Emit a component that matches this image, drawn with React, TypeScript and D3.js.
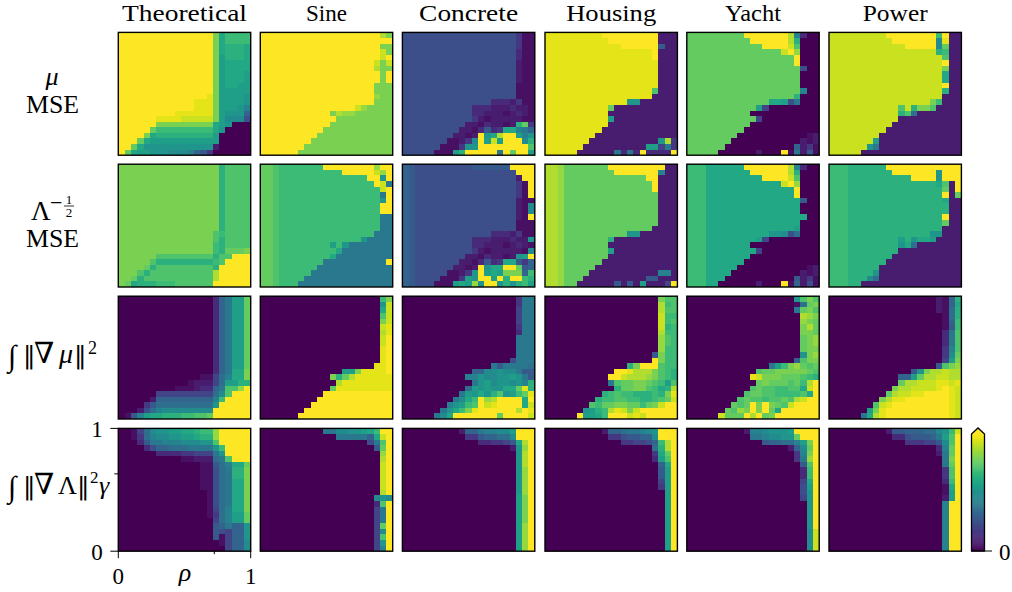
import React from "react";
import * as d3 from "d3";

const columnTitles = ["Theoretical", "Sine", "Concrete", "Housing", "Yacht", "Power"];
const titleWidths = [125, 41, 99, 90, 56, 65];
const yTickLabels = ["1", "0"];
const xTickLabels = ["0", "1"];

// Each row is a run-length list: letter = colour level (a=0 ... z=1), number = reading cells; "*n" repeats the row.
const muTheoretical = ["z16u1p1r5*2","z16u1p1q4p1*2","z16u1o1q4p1","z16u1o1p5*2","z16u1o1p4o1","z16u1o1p3o2","z16u1o6","z15y1u1o5n1","z13y3u1o5n1","z12y4u1o4n1l1","z9y7u1o1n4i1","z6y4x6u1o1m4g1","z6u10p1o1n2a3","z5t1r10p1n2a4","z4u1p1q10o1a6","z3t1p1o12a6","z2t1p1n12c1a6","z1t1p1o2n3m3l2i1h1e1a7"];
const muSine = ["z21w1u1","z23","z21u2","z21x1u1","z21x1z1","z20x1u1x1","z20w1u2","z21u1z1","z20u3*2","z20v1u2","z20u3","z16x1v1u5","z11u1x1w1v2u7","z12w1u10","z11u12","z10u13","z9u14","z8u15","z7u16","z6u17"];
const muConcrete = ["g20e1b2*3","g20d1b2*2","g20c1b2*3","g20b3*3","g15d3c2e1b2","g11d4c4d1c2b1","g11d1b1d1c3b1c2d1c1b1","g11e2c1b1c3d1c2b2","g10c2b2d1c2b1d1c1q1t1e1","g9c2b2d1h1d1e1p1d1p1l1k1i1","g8c2b1c1j1z1n1p1w1z3o1l1n1","g7b2c1e1m1q1z1o1x1o1z4m1q1","g6b3e1n1n1w1z5w1z3s1","g5b3o1q1z2w1z3k1z1q1t1z2o1"];
const muHousing = ["y9z11c3","y10z10c3","y13z7h1c2","y18z2c3","y19z1c3","y20c3*4","y19s1c3","y18p1c4","y14n2c7","y10t1c12","y10c13","y10o1c12","y10c13","y9c14","y8c15","y7c13n1w1e1","y6c11o3f1k1e1","y5c6k2d1k1d1z1d5z1"];
const muYacht = ["t9z8w2l1d1a2","t10z7w2q1a3","t12z5x2s1a3","t16x1z2v1a3","t19z1a3*2","t20g1a2","t20a3*2","t20l1a2","t19q1a3","t14p2o1g2k1a3","t11o1f2a9","t10a13","t11f1a11","t10a13","t9a14","t8a13b1c1","t7a13c1b1c1","t6a13i1c1e1b1","t5a6c2a3z1b2k1c1h1b1"];
const muPower = ["x9z10r1z1c2","x10z9m1y1c2","x13z6m1t1c2","x19q1r1c2","x20s1c2","x20z1c2","x20u1c2","x20p1c2","x20z1c2","x20q1c2","x20c3","x17u1r2c3","x11s2x1q1u2s1m1c4","x11q2s1j1c8","x11c12","x10c13","x9c14","x8c15","x7o1c15","x6n1k1c15","x5c18"];

const lamTheoretical = ["u17q1s5*11","u16s1r1s5","u16s1q1s5","u16r1q1s5","u16r1q1t4u1","u6s10q1s3z3","u5s1q10r1s2z4","u4t1q1s10q1z6","u3s1q1s11w1z6","u2t1q1s12w1z6","u1t1p1q3r3s7z7"];
const lamSine = ["t2s1r7z10v1z2","t2s1r11z6x1v1z1","t2s1r16z2n1z1","t2s1r17z1x1k1","t2s1r18x1z2","t2s1r18k1z1","t2s1r18n1z1","t2s1r18z2","t2s1r18k2*3","t2s1r17k3","t2s1r14n1k5","t2s1r8o1p1r1n1k8","t2s1r9q1p1k9","t2s1r8p1k11","t2s1r7k12z1","t2s1r6k14","t2s1r5k15","t2s1r4k16","t2s1r3k17"];
const lamConcrete = ["i1h1g9h8z4","i1h1g18z3","i1h1g18c1z2","i1h1g18e1b1z1*3","i1h1g18c1b2","i1h1g18c1b1m1","i1h1g18c1b1z1","i1h1g18b3*2","i1h1g13d3c2e1b2","i1h1g9d4c4d1c2n1","i1h1g9d1b1d1c3b1c2d1c1b1","i1h1g9e2c1b1c3d1c2b1m1","i1h1g8c2b2d1c2b1d1c1n1o1z1","i1h1g7c2b2d1h1d1e1p1d1p1h1e1i1","i1h1g6c2b1c1j1z1n1p1p1z3t1h1i1","i1h1g5b2c1e1n1q1z1o1p1o1u3u1i1r1","i1h1g4b3e1o1n1v1z2o1z1q1z3r1q1","i1h1g3b3o1p1o1v1z1n1z2n1q1n2q1r1o1"];
const lamHousing = ["w2v1t7z11c2","w2v1t8z9l1c2","w2v1t14z3c3","w2v1t16z1c3*2","w2v1t17c3*5","w2v1t15q1c4","w2v1t11n2c7","w2v1t7q1c12","w2v1t7c13","w2v1t7o1c12","w2v1t7c13","w2v1t6c14","w2v1t5c15","w2v1t4c13l2c1","w2v1t3c11h3c3","w2v1t2c6h2c1h1c1o1c4f1z1"];
const lamYacht = ["r3p6z8w2l1d1a2","r3p7z7w2q1a3","r3p9z5x2s1a3","r3p13x1z2v1a3","r3p16z1a3*2","r3p17h1a2","r3p17a3","r3p18a2","r3p17a3","r3p16o1a3","r3p11n2m1g2j1a3","r3p8o1f2a9","r3p7a13","r3p8f1a11","r3p7a13","r3p6a14","r3p5a13b1c1","r3p4a13c1b1c1","r3p3a13h1c1e1b1","r3p2a6c2a3z1b2i1c1g1b1"];
const lamPower = ["r3q6z14","r3q7z9n1z3","r3q11z5n1z3","r3q16p1s1c1z1","r3q17t1c1z1","r3q17z1c1t1","r3q17p1c2","r3q17q1c2","r3q17z1c2","r3q17t1c2","r3q17c3","r3q14n1o1n1c3","r3q8o2q1n1p2o1l1c4","r3q8n2p1j1c8","r3q8c12","r3q7c13","r3q6c14","r3q5c15","r3q4n1c15","r3q3m1j1c15","r3q2c18"];

const gradMuTheoretical = ["a16d1i1k2o2t1*12","a16d1i1k2p2u1","a14b2f1j1l2p2u1","a11b2c3f1j1l1o2q2s1","a9b3c2d2i1k1n1s2v1z1","a6f10j1m1s2z3","a5c1i10l1r1z5","a4e1h1j10n1z6","a3c1g1j1l1m9z7","a1b1h1l1o1p2q3r3s2t1z7"];
const gradMuSine = ["a21r1u1","a21n1x1","a21p1x1","a21s1x1","a21u1x1","a21x1y1","a21w1y1","a21x1z1","a21y1z1*3","a20y2z1","a14o2u1y5z1","a11u2q1t1w1y7","a12w2y9","a11t2y10","a10z13","a9z14","a8z15","a7z16","a6z17"];
const gradMuConcrete = ["a20e1k2*2","a20f1k2*3","a20e1k2","a20d1k2","a20k3*3","a19g1k3","a15k1h1k5j1","a11i3m2n1m1n1m1k1h2","a10l2n2m2n2o2n1k1h1","a11k1n2o1m1n2m2n1l1q1","a10j1o2n1o1n2p1o1p1t1y1q1","a9k1o1n1p2n1q1s1n1q1o1r1t1y1q1","a8k1m1p1r1v1z1v1w1z5p1z1","a7l1n1o1r1s1w1z1x1y1z5p1x1","a6k1n1p1r1u1y1z8w1z1y1","a5k1m1p1z8t1z1t1z3x1"];
const gradMuHousing = ["a20u1s2","a20w1r1s1","a20w1s2","a20x1r2","a20x1r1s1","a20x1q1r1","a20w1r2","a20v1s1r1","a20v1r2","a19h1u1r2","a18o1z1u1r2","a14q1u1z4s1r2","a11z3y1w3u2s1r1q1","a10z2x2w3v2u1s1r1q1p1","a10k1s1u1t2u2t2s1r1o1s1","a11q1s1t2u2s2r1p1q1w1","a9q1r1s2r2q3r2q1u1y1","a8q1r2s3r2q3r1s1t1x1z1","a7s1r1t2u3t2r1t1s1u1x1z3","a6n1o1q1r1w1y1w1x1u1x1z7","a5z1o2p1r1z4x1y1x1z6"];
const gradMuYacht = ["a19n1s1u1s1","a18b2j1t1u1s1","a19k1t1u1s1","a20w1v1u1","a20v1u1t1","a20u1w1t1","a20u2t1","a20t1u1v1","a20t1u2","a20n1u1v1","a19i1s1u2","a14k1o1r1u2v1t1s1t1","a11s1t3u3v1u2t1s1","a10y1x1v1u3t2u1t1s1r1q1","a11t1u2t3s2t1r1w1z1","a10s1t2s2r2s1r1s1p1x1z1","a9s1t2s3r3s1r1s1p1z1","a8s1t1s2r2s2t1s1o1w1x1z2","a7t1s1t1z1u1v1z1u1t1s1x1z5","a6t1s1v1u1z1u1x1z1t1p1z7","a5x1t3z1w1z1y1t1u1z8"];
const gradMuPower = ["a19c1b1i1q1","a19c1b1i1p1","a19c1b1j1q1","a20b1j1q1","a20b1i1r1","a20b1h1r1","a20d1k1s1*2","a20e1l1s1","a20e1m1t1","a20f1o1u1","a18d1h1s1u1v1","a14h1n1u1w3x1w2","a11i3o1t1w2x3w2","a11t2w2x3y3x1y1","a10u1w3x4y2z1y1x1","a9t1w1x3y2z5y1x1","a8u1w1y2z9y1x1","a7s1x1y1z11y1x1","a6o1u1y1z12y1x1","a5k1p1w1y1z12y1x1"];

const gradLamTheoretical = ["a2b1f1j1m1n2o2p2q2r2v1z6","a2b1e1j1l1m2n2o2p2q2v1z6","a3d1h1k2l3m4n2s1z6","a4d1g1i2j3k3k2n1r1z5","a6d4e3f3k1n1t1z4","a10b3c3j1k1n1s1z3","a14b2h1j1l2p2t1","a14b2g1j1k2q2u1","a14b2g1j1k2p2u1*2","a15b1g1j1k2p2u1*3","a15b1f1j1l2p2u1","a15b1e1j1l2o2t1","a16f1j1l2o2t1","a16h1i1k2i2n1","a16h1g1f2i2n1","a16h1b1f2i2n1","a17b1f2i2m1","a18f2i2m1"];
const gradLamSine = ["a10k3m2n2o2p1r1z2","a13k6i1p1x1z1","a19g1k1s1z1","a20h1t1z1","a21v1z1","a21w1z1","a21x1z1*4","a21w1z1","a20m1n1m1","a20d1s1z1","a20f1k1z1*3","a20f1t1z1","a20f1m1z1","a20f1s1z1","a20f1n1z1","a20f1l1z1"];
const gradLamConcrete = ["a9c1i2k2l2m2n1o1z3","a10e2h2i2j2k1m1z3","a13d2e2f2h1p1w1z1","a19c1n1v1z1","a20n1w1z1*3","a20n1v1z1*4","a20o1u1z1*5","a20o1v1z1*5"];
const gradLamHousing = ["a9c1i2j2k2l1m2n1z3","a10e2g2h2i2j1m1z3","a12c1e2f2g2i1r1w1z1","a18e1j1q1w1z1","a19e1p1t1z1","a19d1o1s1z1","a20i1p1z1","a20h1o1z1","a20f1o1z1","a20e1o1z1","a21o1z1*11"];
const gradLamYacht = ["a9c1l2m2n2n1o1z5","a10k2l2m2n2w1t1z3","a12h2i2j2k1l1o1u1z1","a17c1e1i1m1t1z1","a19e1l1u1z1","a19e1k1v1z1","a20h1s1z1","a20d1r1z1","a20f1p1z1","a20g1o1z1","a20g1n1z1","a20f1n1z1","a21n1z1*5","a21m1x1*4"];
const gradLamPower = ["a9c1h2i4j2k1m1n1r1x1","a10d2g2h3i1j1k1o1s1z1","a12c1e3f2g1h1m1s1z1","a19d1l1t1z1","a19c1k1t1z1","a20k1u1z1","a20k1t1z1","a20e1s1z1","a20d1r1z1","a20b1p1z1","a20b1o1z1","a20c1o1z1","a20l1z2*9"];

const gridRows = [
  [muTheoretical, muSine, muConcrete, muHousing, muYacht, muPower],
  [lamTheoretical, lamSine, lamConcrete, lamHousing, lamYacht, lamPower],
  [gradMuTheoretical, gradMuSine, gradMuConcrete, gradMuHousing, gradMuYacht, gradMuPower],
  [gradLamTheoretical, gradLamSine, gradLamConcrete, gradLamHousing, gradLamYacht, gradLamPower],
];

const READ_COLS = 23;
const READ_ROWS = 21;
const SKIPPED_READ_COLS = [12, 18]; // the readings were taken on a slightly finer column ruler
const REPEATED_READ_ROW = 7;
const NC = 21;
const NR = 22;

function decode(panel: string[]): number[][] {
  const rows: number[][] = [];
  for (const spec of panel) {
    const [body, rep] = spec.split("*");
    const row: number[] = [];
    for (const m of body.matchAll(/([a-z])(\d+)/g)) {
      for (let i = 0; i < +m[2]; i++) row.push((m[1].charCodeAt(0) - 97) / 25);
    }
    while (row.length < READ_COLS) row.push(row[row.length - 1]);
    const cut = row.slice(0, READ_COLS).filter((_, i) => !SKIPPED_READ_COLS.includes(i));
    for (let i = 0; i < (rep ? +rep : 1); i++) rows.push(cut);
  }
  while (rows.length < READ_ROWS) rows.push(rows[rows.length - 1]);
  const out = rows.slice(0, READ_ROWS);
  out.splice(REPEATED_READ_ROW, 0, out[REPEATED_READ_ROW]);
  return out;
}

const panelLeft = [118.3, 260.3, 402.4, 545, 686.8, 829];
const panelTop = [32.4, 164.2, 296.2, 428.4];
const PW = 132.4;
const PH = 122.8;
const FONT = "'Liberation Serif', serif";
const MATH = "'DejaVu Serif', serif";

function Panel({ data, x, y }: { data: string[]; x: number; y: number }) {
  const cells = decode(data);
  const sx = d3.scaleBand<number>().domain(d3.range(NC)).range([x, x + PW]);
  const sy = d3.scaleBand<number>().domain(d3.range(NR)).range([y, y + PH]);
  return (
    <g>
      {cells.map((row, r) =>
        row.map((v, c) => (
          <rect key={c + "-" + r} x={sx(c)} y={sy(r)} width={sx.bandwidth()} height={sy.bandwidth()} fill={d3.interpolateViridis(v)} shapeRendering="crispEdges" />
        ))
      )}
      <rect x={x} y={y} width={PW} height={PH} fill="none" stroke="#000" strokeWidth={1.4} />
    </g>
  );
}

function Colorbar() {
  const x0 = 971.5, x1 = 984.5, top = 434, bottom = 551;
  const sy = d3.scaleLinear().domain([0, 1]).range([bottom, top]);
  const levels = d3.range(0, 1, 1 / 120);
  const cx = (x0 + x1) / 2;
  return (
    <g>
      {levels.map((v) => (
        <rect key={v} x={x0} y={sy(v + 1 / 120)} width={x1 - x0} height={(bottom - top) / 120 + 0.5} fill={d3.interpolateViridis(v)} />
      ))}
      <path d={`M${x0},${top}L${cx},428L${x1},${top}Z`} fill={d3.interpolateViridis(1)} />
      <path d={`M${x0},${bottom}L${x0},${top}L${cx},428L${x1},${top}L${x1},${bottom}Z`} fill="none" stroke="#000" strokeWidth={1.3} />
      <line x1={x1} x2={992} y1={bottom} y2={bottom} stroke="#000" strokeWidth={1} />
      <text x={999} y={560} fontFamily={FONT} fontSize={23}>0</text>
    </g>
  );
}

export default function App() {
  const lx = panelLeft[0];
  const by = panelTop[3] + PH;
  const tx = d3.scaleLinear().domain([0, 1]).range([lx, lx + PW]);
  const ty = d3.scaleLinear().domain([0, 1]).range([by, panelTop[3]]);
  return (
    <svg width={1012} height={592} style={{ position: "absolute", left: 0, top: 0, background: "#fff" }}>
      {columnTitles.map((t, i) => (
        <text key={t} x={panelLeft[i] + PW / 2} y={20.5} textAnchor="middle" fontFamily={FONT} fontSize={22.5} textLength={titleWidths[i]} lengthAdjust="spacingAndGlyphs">{t}</text>
      ))}
      {gridRows.map((row, r) =>
        row.map((p, c) => <Panel key={r + "-" + c} data={p} x={panelLeft[c]} y={panelTop[r]} />)
      )}
      <g fontFamily={FONT} fontSize={25} fill="#000">
        <text x={52} y={85} textAnchor="middle" fontStyle="italic" fontSize={26}>μ</text>
        <text x={52.5} y={113} textAnchor="middle" textLength={53} lengthAdjust="spacingAndGlyphs">MSE</text>
        <text x={31} y={220} fontSize={27}>Λ</text>
        <text x={50} y={210} fontSize={22}>−</text>
        <text x={69} y={204} fontSize={13} textAnchor="middle">1</text>
        <line x1={64} x2={74} y1={206} y2={206} stroke="#000" strokeWidth={0.8} />
        <text x={69} y={217} fontSize={13} textAnchor="middle">2</text>
        <text x={52.5} y={247} textAnchor="middle" textLength={53} lengthAdjust="spacingAndGlyphs">MSE</text>

        <text x={8} y={366} fontSize={30} fontStyle="italic">∫</text>
        <text x={23} y={363} fontSize={25} fontFamily={MATH}>‖</text>
        <text x={34} y={363} fontSize={29} fontFamily={MATH}>∇</text>
        <text x={59} y={363} fontSize={28} fontStyle="italic">μ</text>
        <text x={74} y={363} fontSize={25} fontFamily={MATH}>‖</text>
        <text x={88} y={354} fontSize={18}>2</text>

        <text x={8} y={497} fontSize={30} fontStyle="italic">∫</text>
        <text x={23} y={494} fontSize={25} fontFamily={MATH}>‖</text>
        <text x={34} y={494} fontSize={29} fontFamily={MATH}>∇</text>
        <text x={58} y={494} fontSize={26}>Λ</text>
        <text x={77} y={494} fontSize={25} fontFamily={MATH}>‖</text>
        <text x={90} y={483} fontSize={17}>2</text>
        <text x={99} y={494} fontSize={26} fontStyle="italic">γ</text>
      </g>
      <g stroke="#000" strokeWidth={1}>
        {[0, 1].map((v) => <line key={"y" + v} x1={lx - 8} x2={lx} y1={ty(v)} y2={ty(v)} />)}
        <line x1={lx - 4} x2={lx} y1={ty(0.63)} y2={ty(0.63)} />
        {[0, 1].map((v) => <line key={"x" + v} x1={tx(v)} x2={tx(v)} y1={by} y2={by + 7} />)}
        <line x1={tx(0.725)} x2={tx(0.725)} y1={by} y2={by + 3} />
      </g>
      <g fontFamily={FONT} fontSize={23} fill="#000">
        <text x={97} y={437} textAnchor="middle">{yTickLabels[0]}</text>
        <text x={97} y={560} textAnchor="middle">{yTickLabels[1]}</text>
        <text x={tx(0)} y={584} textAnchor="middle">{xTickLabels[0]}</text>
        <text x={tx(1)} y={584} textAnchor="middle">{xTickLabels[1]}</text>
        <text x={185} y={581} textAnchor="middle" fontStyle="italic" fontSize={26}>ρ</text>
      </g>
      <Colorbar />
    </svg>
  );
}
